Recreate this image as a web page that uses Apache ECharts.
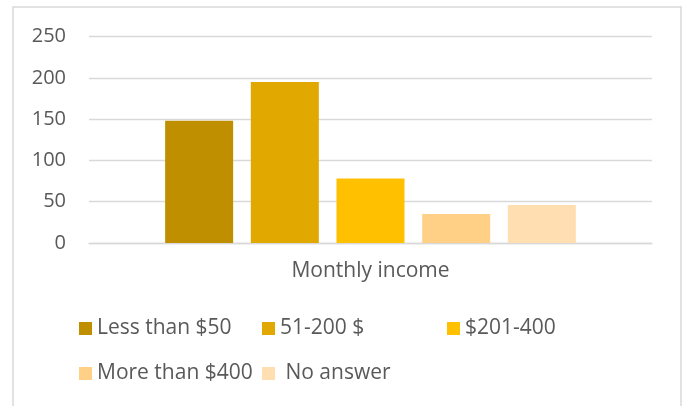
<!DOCTYPE html>
<html>
<head>
<meta charset="utf-8">
<script src="https://cdn.jsdelivr.net/npm/echarts@6/dist/echarts.min.js"></script>
<style>
  html, body { margin: 0; padding: 0; background: #fff; }
  #chart { width: 688px; height: 406px; }
</style>
</head>
<body>
<div id="chart"></div>
<script>
// data
const categories = ['Monthly income']
const seriesNames = ['Less than $50', '51-200 $', '$201-400', 'More than $400', ' No answer']
const seriesValues = [148, 195, 78, 35, 46]
const seriesColors = ['#BF8F00', '#E1A900', '#FFC000', '#FFD085', '#FFDFB2']
const yTicks = { min: 0, max: 250, interval: 50 }

const textColor = '#595959'
const font = 'Open Sans'

// legend slots, laid out like the original (3 columns, 2 rows)
const legendPos = [[79, 318], [262, 318], [447, 318], [79, 363], [262, 363]]

const chart = echarts.init(document.getElementById('chart'))

chart.setOption({
  animation: false,
  graphic: [{
    type: 'rect',
    shape: { x: 13, y: 7, width: 668, height: 420 },
    style: { fill: 'none', stroke: '#d9d9d9', lineWidth: 1.5 },
    silent: true
  }],
  grid: { left: 89, right: 36, top: 36.5, bottom: 163 },
  legend: seriesNames.map((name, i) => ({
    left: legendPos[i][0],
    top: legendPos[i][1],
    padding: 0,
    itemWidth: 13,
    itemHeight: 13,
    icon: 'rect',
    selectedMode: false,
    textStyle: { color: textColor, fontFamily: font, fontSize: 21 },
    data: [name]
  })),
  xAxis: {
    type: 'category',
    data: categories,
    axisLine: { lineStyle: { color: '#d9d9d9', width: 1.3 } },
    axisTick: { show: false },
    axisLabel: { color: textColor, fontFamily: font, fontSize: 21, margin: 18 }
  },
  yAxis: {
    type: 'value',
    min: yTicks.min,
    max: yTicks.max,
    interval: yTicks.interval,
    axisLine: { show: false },
    axisTick: { show: false },
    splitLine: { lineStyle: { color: '#d9d9d9', width: 1.3 } },
    axisLabel: { color: textColor, fontFamily: font, fontSize: 20, margin: 23 }
  },
  series: seriesNames.map((name, i) => ({
    name: name,
    type: 'bar',
    data: [seriesValues[i]],
    itemStyle: { color: seriesColors[i] },
    barWidth: 68,
    barGap: '26%'
  }))
})
</script>
</body>
</html>
